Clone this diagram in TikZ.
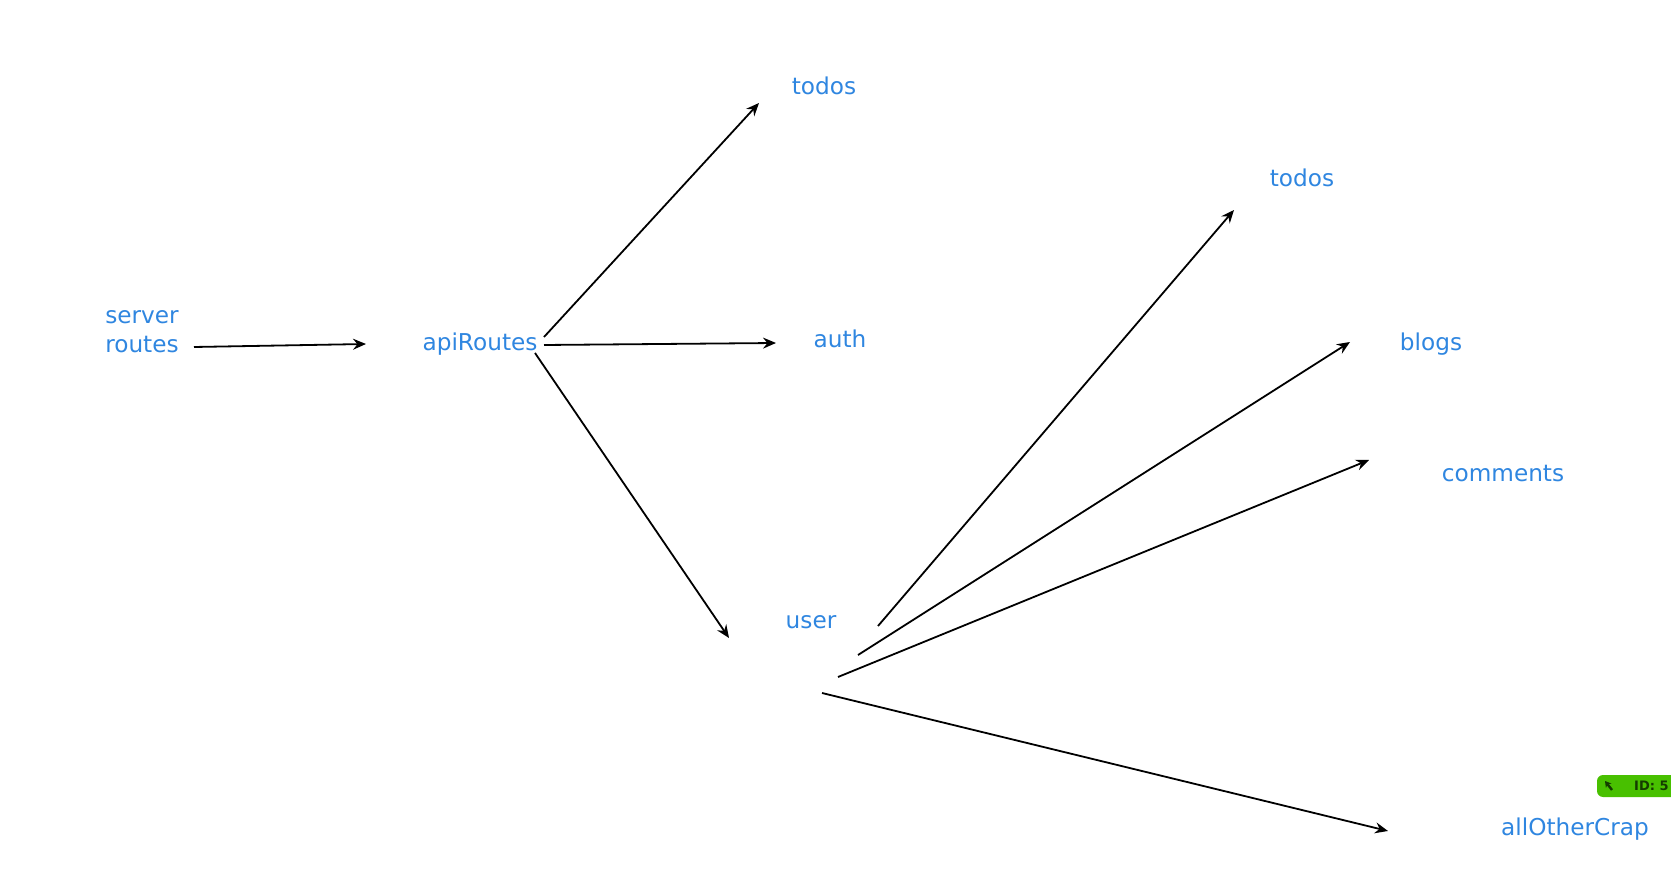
\documentclass[tikz,border=0pt]{standalone}
\usepackage{fontspec}
\setmainfont{DejaVu Sans}
\usetikzlibrary{arrows.meta}
\definecolor{lblblue}{RGB}{47,134,224}
\definecolor{badgegreen}{RGB}{72,192,0}
\definecolor{badgetext}{RGB}{20,60,0}
\begin{document}
\begin{tikzpicture}[x=0.5pt,y=-0.5pt,
  lbl/.style={text=lblblue,font=\fontsize{11.6}{14.4}\selectfont,inner sep=0pt},
  link/.style={draw,line width=0.9pt,-{Stealth[length=6.5pt,width=5.5pt,inset=2.2pt]}}]
\useasboundingbox (0,0) rectangle (1671,876);
\clip (0,0) rectangle (1671,876);
% labels
\node[lbl,align=left] (server) at (142,332) {server\\routes};
\node[lbl] (api) at (480,344) {apiRoutes};
\node[lbl] (todosA) at (824,86) {todos};
\node[lbl] (auth) at (840,339) {auth};
\node[lbl] (user) at (811,622) {user};
\node[lbl] (todosB) at (1302,178) {todos};
\node[lbl] (blogs) at (1431,344) {blogs};
\node[lbl] (comments) at (1503,474) {comments};
\node[lbl] (other) at (1575,829) {allOtherCrap};
% connector ends
\coordinate (server-out) at (194,347);
\coordinate (api-in) at (366,344);
\coordinate (api-out1) at (544,337);
\coordinate (api-out2) at (544,345);
\coordinate (api-out3) at (535,353);
\coordinate (todosA-in) at (759,103);
\coordinate (auth-in) at (776,343);
\coordinate (user-in) at (729,638);
\coordinate (user-out1) at (878,626);
\coordinate (user-out2) at (858,655);
\coordinate (user-out3) at (838,677);
\coordinate (user-out4) at (822,693);
\coordinate (todosB-in) at (1234,210);
\coordinate (blogs-in) at (1350,342);
\coordinate (comments-in) at (1369,460);
\coordinate (other-in) at (1388,831);
\path[link] (server-out) -- (api-in);
\path[link] (api-out1) -- (todosA-in);
\path[link] (api-out2) -- (auth-in);
\path[link] (api-out3) -- (user-in);
\path[link] (user-out1) -- (todosB-in);
\path[link] (user-out2) -- (blogs-in);
\path[link] (user-out3) -- (comments-in);
\path[link] (user-out4) -- (other-in);
% badge
\fill[badgegreen,rounded corners=3pt] (1597,775) rectangle (1700,797);
\node[text=badgetext,font=\fontsize{6.5}{8}\bfseries\selectfont,anchor=east,inner sep=0pt] (badge) at (1669,786) {ID: 5};
\draw[badgetext,line width=1.2pt,-{Stealth[length=3pt,width=3.5pt]}] (1612,790) -- (1605,781);
\end{tikzpicture}
\end{document}
